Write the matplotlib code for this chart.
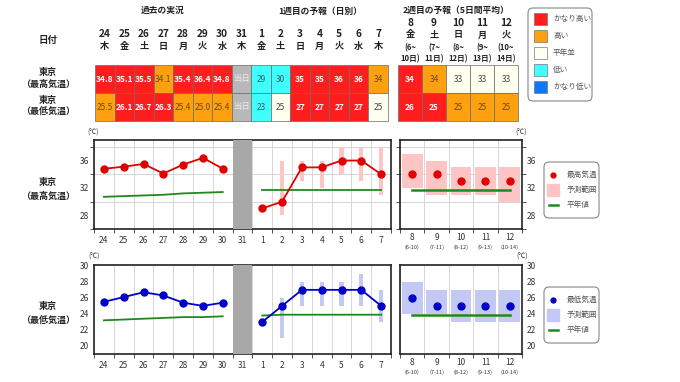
import numpy as np
import matplotlib
matplotlib.use('Agg')
import matplotlib.pyplot as plt
from matplotlib.patches import Rectangle, FancyBboxPatch
from matplotlib.lines import Line2D

plt.rcParams['font.family'] = ['Noto Sans CJK JP', 'DejaVu Sans']

# データ
days = ['24', '25', '26', '27', '28', '29', '30', '31', '1', '2', '3', '4', '5', '6', '7']
weekdays = ['木', '金', '土', '日', '月', '火', '水', '木', '金', '土', '日', '月', '火', '水', '木']
w2_days = ['8', '9', '10', '11', '12']
w2_weekdays = ['金', '土', '日', '月', '火']
w2_from = ['(6~', '(7~', '(8~', '(9~', '(10~']
w2_to = ['10日)', '11日)', '12日)', '13日)', '14日)']
w2_span = ['(6-10)', '(7-11)', '(8-12)', '(9-13)', '(10-14)']

max_table = ['34.8', '35.1', '35.5', '34.1', '35.4', '36.4', '34.8', '当日', '29', '30', '35', '35', '36', '36', '34']
max_cls = ['vh', 'vh', 'vh', 'h', 'vh', 'vh', 'vh', 'today', 'l', 'l', 'vh', 'vh', 'vh', 'vh', 'h']
min_table = ['25.5', '26.1', '26.7', '26.3', '25.4', '25.0', '25.4', '当日', '23', '25', '27', '27', '27', '27', '25']
min_cls = ['h', 'vh', 'vh', 'vh', 'h', 'h', 'h', 'today', 'l', 'n', 'vh', 'vh', 'vh', 'vh', 'n']
w2_max_table = ['34', '34', '33', '33', '33']
w2_max_cls = ['vh', 'h', 'n', 'n', 'n']
w2_min_table = ['26', '25', '25', '25', '25']
w2_min_cls = ['vh', 'vh', 'h', 'h', 'h']

# 最高気温
past_max = [34.8, 35.1, 35.5, 34.1, 35.4, 36.4, 34.8]
past_max_norm = [30.7, 30.8, 30.9, 31.0, 31.2, 31.3, 31.4]
w1_max = [29, 30, 35, 35, 36, 36, 34]
w1_max_lo = [None, 28, 33, 32, 34, 33, 31]
w1_max_hi = [None, 36, 36, 36, 38, 38, 38]
w1_max_norm = [31.7, 31.7, 31.7, 31.7, 31.7, 31.7, 31.7]
w2_max = [34, 34, 33, 33, 33]
w2_max_lo = [32, 31, 31, 31, 30]
w2_max_hi = [37, 36, 35, 35, 35]
w2_max_norm = [31.7, 31.7, 31.7, 31.7, 31.7]

# 最低気温
past_min = [25.5, 26.1, 26.7, 26.3, 25.4, 25.0, 25.4]
past_min_norm = [23.2, 23.3, 23.4, 23.5, 23.6, 23.6, 23.7]
w1_min = [23, 25, 27, 27, 27, 27, 25]
w1_min_lo = [None, 21, 25, 25, 25, 25, 23]
w1_min_hi = [None, 26, 28, 28, 28, 29, 27]
w1_min_norm = [23.8, 23.9, 23.9, 23.9, 23.9, 23.9, 23.9]
w2_min = [26, 25, 25, 25, 25]
w2_min_lo = [24, 24, 23, 23, 23]
w2_min_hi = [28, 27, 27, 27, 27]
w2_min_norm = [23.9, 23.9, 23.9, 23.9, 23.9]

legend_labels = ['かなり高い', '高い', '平年並', '低い', 'かなり低い']
legend_cls = ['vh', 'h', 'n', 'l', 'vl']

# 色
fill = {'vh': '#ff1e1e', 'h': '#ffa010', 'n': '#fffff0', 'l': '#40ffff', 'vl': '#0a78ff', 'today': '#b8b8b8'}
txtc = {'vh': 'white', 'h': '#6a4a10', 'n': '#444444', 'l': '#2f6060', 'vl': 'white', 'today': '#eeeeee'}
RED = '#e00000'
BLUE = '#0000c8'
GREEN = '#1e8a1e'
PINK = '#ffc4c4'
LBLUE = '#c4c8f4'

W, H = 680, 382
fig = plt.figure(figsize=(W / 100, H / 100), dpi=100)
fig.patch.set_facecolor('white')


def px_axes(x0, y0, x1, y1):
    return fig.add_axes([x0 / W, 1 - y1 / H, (x1 - x0) / W, (y1 - y0) / H])


ov = fig.add_axes([0, 0, 1, 1])
ov.set_xlim(0, W)
ov.set_ylim(H, 0)
ov.axis('off')
ov.set_zorder(5)
ov.patch.set_alpha(0)

bold = dict(fontweight='bold', color='#222222')

# 見出し
ov.text(163, 10, '過去の実況', ha='center', va='center', fontsize=6.3, **bold)
ov.text(320, 11, '1週目の予報（日別）', ha='center', va='center', fontsize=6.3, **bold)
ov.text(456, 10, '2週目の予報（5日間平均）', ha='center', va='center', fontsize=6.3, **bold)
ov.text(48, 40, '日付', ha='center', va='center', fontsize=6.8, **bold)

# 表（日別）
tx0, tx1 = 95, 388
cw = (tx1 - tx0) / len(days)
for i in range(len(days)):
    cx = tx0 + cw * (i + 0.5)
    ov.text(cx, 34, days[i], ha='center', va='center', fontsize=7.3, **bold)
    ov.text(cx, 46, weekdays[i], ha='center', va='center', fontsize=6.6, **bold)
    for (y0, y1, vals, cls) in [(65, 93, max_table, max_cls), (93, 121, min_table, min_cls)]:
        c = cls[i]
        ov.add_patch(Rectangle((tx0 + cw * i, y0), cw, y1 - y0, facecolor=fill[c], edgecolor='#6a6a6a', lw=0.5))
        ov.text(cx, (y0 + y1) / 2, vals[i], ha='center', va='center', fontsize=6,
                color=txtc[c], fontweight='bold' if c == 'vh' else 'normal')

# 表（2週目）
ux0, ux1 = 398, 518
uw = (ux1 - ux0) / len(w2_days)
for i in range(len(w2_days)):
    cx = ux0 + uw * (i + 0.5)
    ov.text(cx, 23, w2_days[i], ha='center', va='center', fontsize=7.3, **bold)
    ov.text(cx, 35, w2_weekdays[i], ha='center', va='center', fontsize=6.6, **bold)
    ov.text(cx, 48, w2_from[i], ha='center', va='center', fontsize=5.5, **bold)
    ov.text(cx, 59, w2_to[i], ha='center', va='center', fontsize=5.5, **bold)
    for (y0, y1, vals, cls) in [(65, 93, w2_max_table, w2_max_cls), (93, 121, w2_min_table, w2_min_cls)]:
        c = cls[i]
        ov.add_patch(Rectangle((ux0 + uw * i, y0), uw, y1 - y0, facecolor=fill[c], edgecolor='#6a6a6a', lw=0.5))
        ov.text(cx, (y0 + y1) / 2, vals[i], ha='center', va='center', fontsize=6,
                color=txtc[c], fontweight='bold' if c == 'vh' else 'normal')

# 行ラベル
for (y, lab) in [(72, '東京'), (84, '（最高気温）'), (100, '東京'), (112, '（最低気温）'),
                 (182, '東京'), (196, '（最高気温）'), (307, '東京'), (321, '（最低気温）')]:
    ov.text(48, y, lab, ha='center', va='center', fontsize=6.5, **bold)

# 色の凡例
ov.add_patch(FancyBboxPatch((528, 8), 64, 93, boxstyle='round,pad=0,rounding_size=5',
                            facecolor='white', edgecolor='#888888', lw=0.8))
for k, (lab, c) in enumerate(zip(legend_labels, legend_cls)):
    yc = 19 + 17 * k
    ov.add_patch(Rectangle((534, yc - 6), 13, 12, facecolor=fill[c], edgecolor='#777777', lw=0.5))
    ov.text(553, yc, lab, ha='left', va='center', fontsize=5.5, color='#555555')


def style_days(ax, ylo, yhi, grid):
    ax.set_xlim(-0.5, len(days) - 0.5)
    ax.set_ylim(ylo, yhi)
    ax.set_xticks(np.arange(len(days)))
    ax.set_xticklabels(days, fontsize=6, color='#333333')
    ax.set_xticks(np.arange(len(days) + 1) - 0.5, minor=True)
    ax.set_yticks(grid, minor=True)
    ax.tick_params(axis='x', which='major', length=0, pad=5)
    ax.tick_params(which='minor', length=3, width=0.6, color='#333333', direction='out')
    ax.tick_params(axis='y', which='major', length=0, labelsize=6, labelcolor='#333333')
    ax.grid(True, which='minor', color='#d0d0d0', lw=0.6)
    for s in ax.spines.values():
        s.set_linewidth(1.2)
        s.set_color('#222222')
    ax.axvspan(6.5, 7.5, color='#a8a8a8', zorder=3, lw=0)


def style_w2(ax, ylo, yhi, grid):
    ax.set_xlim(-0.5, len(w2_days) - 0.5)
    ax.set_ylim(ylo, yhi)
    ax.set_xticks(np.arange(len(w2_days)))
    ax.set_xticklabels(w2_days, fontsize=6, color='#333333')
    ax.set_xticks(np.arange(len(w2_days) + 1) - 0.5, minor=True)
    ax.set_yticks(grid, minor=True)
    ax.yaxis.tick_right()
    ax.yaxis.set_ticks_position('both')
    ax.tick_params(axis='x', which='major', length=0, pad=3)
    ax.tick_params(which='minor', length=3, width=0.6, color='#333333', direction='out')
    ax.tick_params(axis='y', which='major', length=0, labelsize=6, labelcolor='#333333')
    ax.grid(True, which='minor', color='#d0d0d0', lw=0.6)
    for s in ax.spines.values():
        s.set_linewidth(1.2)
        s.set_color('#222222')
    for i, sp in enumerate(w2_span):
        ax.text(i, -0.2, sp, transform=ax.get_xaxis_transform(), ha='center', va='center',
                fontsize=4, color='#333333')


def draw_chart(ax, ax2, past, past_norm, w1, w1_lo, w1_hi, w1_norm,
               w2, w2_lo, w2_hi, w2_norm, col, rng):
    xp = np.arange(len(past))
    x1 = np.arange(len(w1)) + len(past) + 1
    for x, lo, hi in zip(x1, w1_lo, w1_hi):
        if lo is not None:
            ax.bar(x, hi - lo, bottom=lo, width=0.22, color=rng, zorder=2)
    ax.plot(xp, past_norm, color=GREEN, lw=1.3, zorder=4)
    ax.plot(x1, w1_norm, color=GREEN, lw=1.3, zorder=4)
    ax.plot(xp, past, '-o', color=col, lw=1.3, ms=5, zorder=5)
    ax.plot(x1, w1, '-o', color=col, lw=1.3, ms=5, zorder=5)

    x2 = np.arange(len(w2))
    ax2.bar(x2, np.array(w2_hi) - np.array(w2_lo), bottom=w2_lo, width=0.86, color=rng, zorder=2)
    ax2.plot(x2, w2_norm, color=GREEN, lw=1.8, zorder=4)
    ax2.plot(x2, w2, 'o', color=col, ms=5, zorder=5)


# 最高気温グラフ
axm = px_axes(94, 140, 391, 229)
axm2 = px_axes(400, 140, 522, 229)
style_days(axm, 26, 39, np.arange(26, 40, 2))
style_w2(axm2, 26, 39, np.arange(26, 40, 2))
axm.set_yticks([28, 32, 36])
axm2.set_yticks([28, 32, 36])
draw_chart(axm, axm2, past_max, past_max_norm, w1_max, w1_max_lo, w1_max_hi, w1_max_norm,
           w2_max, w2_max_lo, w2_max_hi, w2_max_norm, RED, PINK)

# 最低気温グラフ
axn = px_axes(94, 265, 391, 354)
axn2 = px_axes(400, 265, 522, 354)
style_days(axn, 19, 30.1, np.arange(20, 31, 2))
style_w2(axn2, 19, 30.1, np.arange(20, 31, 2))
axn.set_yticks(np.arange(20, 31, 2))
axn2.set_yticks(np.arange(20, 31, 2))
draw_chart(axn, axn2, past_min, past_min_norm, w1_min, w1_min_lo, w1_min_hi, w1_min_norm,
           w2_min, w2_min_lo, w2_min_hi, w2_min_norm, BLUE, LBLUE)

# 単位
for (x, y) in [(93, 133), (521, 133), (94, 257), (522, 257)]:
    ov.text(x, y, '(℃)', ha='center', va='center', fontsize=5, color='#333333')

# グラフ凡例
for (y0, col, rng, lab) in [(162, RED, PINK, '最高気温'), (287, BLUE, LBLUE, '最低気温')]:
    ov.add_patch(FancyBboxPatch((544, y0), 55, 56, boxstyle='round,pad=0,rounding_size=5',
                                facecolor='white', edgecolor='#888888', lw=0.8))
    items = [(lab, dict(marker='o', color=col, ms=3.5, ls='')),
             ('予測範囲', dict(marker='s', color=rng, ms=8, ls='')),
             ('平年値', dict(color=GREEN, lw=1.8))]
    for k, (t, kw) in enumerate(items):
        yc = y0 + 13 + 15 * k
        if 'lw' in kw:
            ov.add_line(Line2D([549, 558], [yc, yc], **kw))
        else:
            ov.add_line(Line2D([553], [yc], **kw))
        ov.text(567, yc, t, ha='left', va='center', fontsize=5.5, color='#555555')

fig.savefig('out.png', dpi=100)
